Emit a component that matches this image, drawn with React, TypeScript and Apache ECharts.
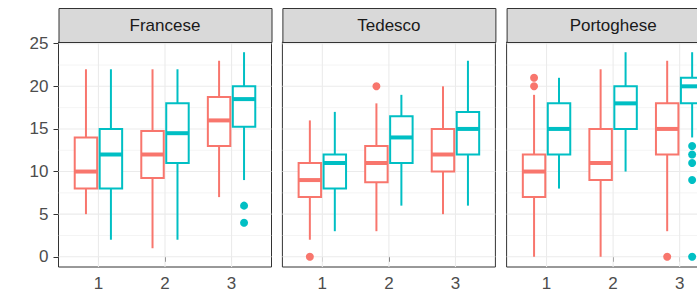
import React, { useEffect, useRef } from 'react';
import * as echarts from 'echarts';

const FACETS = ['Francese', 'Tedesco', 'Portoghese'];
const CATEGORIES = [1, 2, 3];
const Y_TICKS = [0, 5, 10, 15, 20, 25];
const Y_MINOR = [2.5, 7.5, 12.5, 17.5, 22.5];
const GROUP_COLORS = ['#F8766D', '#00BFC4'];

// box stats per category: [lower whisker, Q1, median, Q3, upper whisker]
const FRANCESE_A = [[5, 8, 10, 14, 22], [1, 9.25, 12, 14.75, 22], [7, 13, 16, 18.75, 23]];
const FRANCESE_B = [[2, 8, 12, 15, 22], [2, 11, 14.5, 18, 22], [9, 15.25, 18.5, 20, 24]];
const TEDESCO_A = [[2, 7, 9, 11, 16], [3, 8.75, 11, 13, 18], [5, 10, 12, 15, 20]];
const TEDESCO_B = [[3, 8, 11, 12, 17], [6, 11, 14, 16.5, 19], [6, 12, 15, 17, 23]];
const PORTOGHESE_A = [[0, 7, 10, 12, 19], [0, 9, 11, 15, 22], [3, 12, 15, 18, 23]];
const PORTOGHESE_B = [[8, 12, 15, 18, 21], [10, 15, 18, 20, 24], [14, 18, 20, 21, 24]];

// outliers: [category, value]
const FRANCESE_A_OUT: number[][] = [];
const FRANCESE_B_OUT = [[3, 6], [3, 4]];
const TEDESCO_A_OUT = [[1, 0], [2, 20]];
const TEDESCO_B_OUT: number[][] = [];
const PORTOGHESE_A_OUT = [[1, 21], [1, 20], [3, 0]];
const PORTOGHESE_B_OUT = [[3, 13], [3, 12], [3, 11], [3, 9], [3, 0]];

const BOXES = [
  [FRANCESE_A, FRANCESE_B],
  [TEDESCO_A, TEDESCO_B],
  [PORTOGHESE_A, PORTOGHESE_B],
];
const OUTLIERS = [
  [FRANCESE_A_OUT, FRANCESE_B_OUT],
  [TEDESCO_A_OUT, TEDESCO_B_OUT],
  [PORTOGHESE_A_OUT, PORTOGHESE_B_OUT],
];

const FONT = "'Liberation Sans', Arial, Helvetica, sans-serif";
const PANEL_LEFTS = [58.5, 282.4, 506.6];
const PANEL_W = 213;
const PANEL_TOP = 42;
const PANEL_H = 226.3;
const STRIP_TOP = 8;
const X_MIN = 0.4;
const X_MAX = 3.6;
const Y_MIN = -1.2;
const Y_MAX = 25.2;
const DODGE = 0.1875;
const BOX_W = 0.3375;

export default function App() {
  const ref = useRef<HTMLDivElement>(null);

  useEffect(() => {
    if (!ref.current) return;
    const chart = echarts.init(ref.current, null, { renderer: 'svg' });

    const grid: any[] = [];
    const xAxis: any[] = [];
    const yAxis: any[] = [];
    const series: any[] = [];
    const graphic: any[] = [];

    FACETS.forEach((name, i) => {
      grid.push({
        left: PANEL_LEFTS[i],
        top: PANEL_TOP,
        width: PANEL_W,
        height: PANEL_H,
        show: true,
        backgroundColor: '#FFFFFF',
        borderColor: '#333333',
        borderWidth: 1,
        containLabel: false,
      });
      xAxis.push({
        type: 'value',
        gridIndex: i,
        min: X_MIN,
        max: X_MAX,
        axisLine: { show: false },
        splitLine: { show: false },
        axisTick: {
          show: true,
          customValues: CATEGORIES,
          length: 5,
          lineStyle: { color: '#333333', width: 1 },
        },
        axisLabel: {
          show: true,
          customValues: CATEGORIES,
          formatter: (v: number) => String(v),
          fontSize: 17,
          color: '#4D4D4D',
          fontFamily: FONT,
          margin: 8,
        },
      });
      yAxis.push({
        type: 'value',
        gridIndex: i,
        min: Y_MIN,
        max: Y_MAX,
        axisLine: { show: false },
        splitLine: { show: false },
        axisTick: {
          show: i === 0,
          customValues: Y_TICKS,
          length: 5,
          lineStyle: { color: '#333333', width: 1 },
        },
        axisLabel: {
          show: i === 0,
          customValues: Y_TICKS,
          formatter: (v: number) => String(v),
          fontSize: 17,
          color: '#4D4D4D',
          fontFamily: FONT,
          margin: 10,
        },
      });

      // horizontal grid lines
      const hLines = [
        ...Y_MINOR.map((v) => [v, 0.55]),
        ...Y_TICKS.map((v) => [v, 1.1]),
      ];
      series.push({
        type: 'custom',
        xAxisIndex: i,
        yAxisIndex: i,
        z: 1,
        silent: true,
        data: hLines,
        encode: { y: 0 },
        renderItem: (params: any, api: any) => {
          const v = api.value(0);
          const w = api.value(1);
          const p1 = api.coord([X_MIN, v]);
          const p2 = api.coord([X_MAX, v]);
          return {
            type: 'line',
            shape: { x1: p1[0], y1: p1[1], x2: p2[0], y2: p2[1] },
            style: { stroke: '#EBEBEB', lineWidth: w },
          };
        },
      });
      // vertical grid lines
      series.push({
        type: 'custom',
        xAxisIndex: i,
        yAxisIndex: i,
        z: 1,
        silent: true,
        data: CATEGORIES.map((c) => [c]),
        encode: { x: 0 },
        renderItem: (params: any, api: any) => {
          const c = api.value(0);
          const p1 = api.coord([c, Y_MIN]);
          const p2 = api.coord([c, Y_MAX]);
          return {
            type: 'line',
            shape: { x1: p1[0], y1: p1[1], x2: p2[0], y2: p2[1] },
            style: { stroke: '#EBEBEB', lineWidth: 1.1 },
          };
        },
      });

      [0, 1].forEach((g) => {
        const offset = g === 0 ? -DODGE : DODGE;
        const color = GROUP_COLORS[g];
        series.push({
          type: 'custom',
          xAxisIndex: i,
          yAxisIndex: i,
          z: 2,
          data: BOXES[i][g].map((s, k) => [CATEGORIES[k], ...s]),
          encode: { x: 0, y: [1, 2, 3, 4, 5] },
          renderItem: (params: any, api: any) => {
            const x = api.value(0) + offset;
            const lo = api.coord([x, api.value(1)]);
            const q1 = api.coord([x, api.value(2)]);
            const med = api.coord([x, api.value(3)]);
            const q3 = api.coord([x, api.value(4)]);
            const hi = api.coord([x, api.value(5)]);
            const w = api.size([BOX_W, 0])[0];
            const cx = med[0];
            return {
              type: 'group',
              children: [
                {
                  type: 'line',
                  shape: { x1: cx, y1: hi[1], x2: cx, y2: q3[1] },
                  style: { stroke: color, lineWidth: 2 },
                },
                {
                  type: 'line',
                  shape: { x1: cx, y1: q1[1], x2: cx, y2: lo[1] },
                  style: { stroke: color, lineWidth: 2 },
                },
                {
                  type: 'rect',
                  shape: { x: cx - w / 2, y: q3[1], width: w, height: q1[1] - q3[1] },
                  style: { fill: '#FFFFFF', stroke: color, lineWidth: 2 },
                },
                {
                  type: 'line',
                  shape: { x1: cx - w / 2, y1: med[1], x2: cx + w / 2, y2: med[1] },
                  style: { stroke: color, lineWidth: 4 },
                },
              ],
            };
          },
        });
        series.push({
          type: 'scatter',
          xAxisIndex: i,
          yAxisIndex: i,
          z: 3,
          symbol: 'circle',
          symbolSize: 8,
          itemStyle: { color, opacity: 1 },
          data: OUTLIERS[i][g].map((p) => [p[0] + offset, p[1]]),
        });
      });

      graphic.push({
        type: 'rect',
        left: PANEL_LEFTS[i],
        top: STRIP_TOP,
        shape: { x: 0, y: 0, width: PANEL_W, height: PANEL_TOP - STRIP_TOP },
        style: { fill: '#D9D9D9', stroke: '#333333', lineWidth: 1 },
        z: 10,
      });
      graphic.push({
        type: 'text',
        x: PANEL_LEFTS[i] + PANEL_W / 2,
        y: (STRIP_TOP + PANEL_TOP) / 2,
        style: {
          text: name,
          fontSize: 17,
          fontFamily: FONT,
          fill: '#1A1A1A',
          align: 'center',
          verticalAlign: 'middle',
        },
        z: 11,
      });
    });

    chart.setOption({
      animation: false,
      backgroundColor: '#FFFFFF',
      grid,
      xAxis,
      yAxis,
      series,
      graphic,
    });

    return () => chart.dispose();
  }, []);

  return (
    <div
      style={{
        position: 'absolute',
        left: 0,
        top: 0,
        width: 697,
        height: 292,
        overflow: 'hidden',
      }}
    >
      <div ref={ref} style={{ width: 740, height: 292 }} />
    </div>
  );
}
